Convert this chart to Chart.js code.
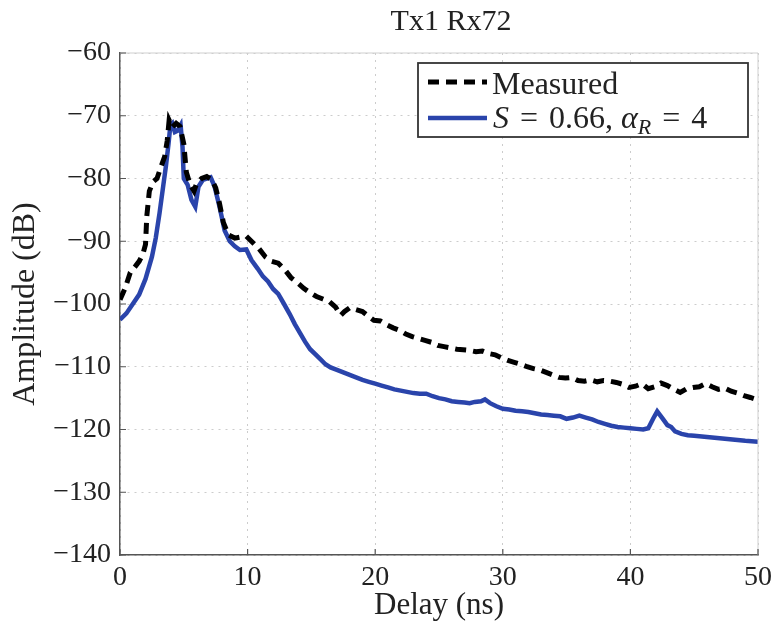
<!DOCTYPE html>
<html>
<head>
<meta charset="utf-8">
<script src="https://cdn.jsdelivr.net/npm/chart.js@4/dist/chart.umd.min.js"></script>
<style>
  body { margin: 0; background: #fff; }
  canvas { display: block; }
</style>
</head>
<body>
<canvas id="myChart" width="778" height="624"></canvas>
<script>
const chartTitle = 'Tx1 Rx72';
const xTitle = 'Delay (ns)';
const yTitle = 'Amplitude (dB)';
const xTicks = [0, 10, 20, 30, 40, 50];
const yTicks = [-140, -130, -120, -110, -100, -90, -80, -70, -60];

// Measured (dashed black)
const measDelay = [0, 0.4, 0.8, 1.2, 1.5, 1.8, 2.0, 2.1, 2.3, 2.6, 2.9, 3.2, 3.5, 3.7, 3.85, 4.1, 4.4, 4.7, 5.0, 5.2,
  5.5, 5.8, 6.0, 6.4, 6.8, 7.2, 7.5, 7.8, 8.1, 8.5, 9.0, 9.5, 9.9, 10.4, 10.9, 11.4, 11.9, 12.4, 12.9, 13.4,
  13.9, 14.4, 14.9, 15.4, 15.9, 16.4, 16.9, 17.3, 17.6, 18.0, 18.5, 19.0, 19.5, 19.9, 20.4, 20.9, 21.4, 21.9, 22.4, 22.9,
  23.4, 23.9, 24.4, 24.9, 25.4, 25.9, 26.4, 26.9, 27.4, 27.9, 28.4, 28.9, 29.4, 29.9, 30.4, 30.9, 31.4, 31.9, 32.4, 32.9,
  33.4, 33.9, 34.4, 34.9, 35.4, 35.9, 36.4, 36.9, 37.4, 37.9, 38.4, 38.9, 39.4, 39.9, 40.4, 40.9, 41.4, 41.9, 42.4, 42.9,
  43.4, 43.9, 44.4, 44.9, 45.4, 45.9, 46.4, 46.9, 47.4, 47.9, 48.4, 48.9, 49.4, 50.0];
const measAmp = [-99.3, -97.5, -95, -94, -93.2, -92, -90.5, -86, -82, -80.5, -80, -78.2, -76.5, -74, -70.7, -71.8, -71.2, -71.7, -74.5, -79,
  -81, -82, -80.8, -80, -79.7, -80.2, -81.5, -84, -87, -89, -89.5, -89.3, -89.2, -90.2, -91.2, -92.5, -93.2, -93.5, -94.5, -95.8,
  -96.6, -97.5, -98.2, -98.8, -99.2, -99.6, -100.5, -101.8, -101.2, -100.6, -100.9, -101.2, -102, -102.6, -102.7, -103.3, -103.8, -104.2, -104.8, -105.2,
  -105.5, -105.8, -106.1, -106.6, -106.8, -107, -107.2, -107.3, -107.4, -107.6, -107.5, -107.9, -108.1, -108.6, -109, -109.3, -109.6, -110, -110.3, -110.5,
  -110.9, -111.3, -111.7, -111.8, -111.7, -112.2, -112.3, -112.1, -112.4, -112.2, -112.3, -112.5, -112.8, -113.3, -113.1, -112.7, -113.5, -113.2, -112.6, -113,
  -113.6, -114.1, -113.5, -113.3, -113.2, -112.7, -113.2, -113.6, -113.4, -113.9, -114.2, -114.6, -114.9, -115.3];

// Model S = 0.66, alpha_R = 4 (solid blue)
const simDelay = [0, 0.5, 1.0, 1.5, 2.0, 2.5, 2.8, 3.1, 3.4, 3.6, 3.8, 3.95, 4.1, 4.3, 4.5, 4.75, 4.9, 5.0, 5.3, 5.6,
  5.9, 6.15, 6.5, 6.8, 7.1, 7.4, 7.8, 8.2, 8.6, 9.0, 9.4, 9.9, 10.3, 10.8, 11.2, 11.6, 12.0, 12.4, 12.8, 13.3,
  13.7, 14.1, 14.5, 14.9, 15.3, 15.7, 16.1, 16.5, 17.0, 17.5, 18.0, 18.5, 19.0, 19.5, 20.0, 20.5, 21.0, 21.5, 22.0, 22.5,
  23.0, 23.5, 24.0, 24.5, 25.0, 25.5, 26.0, 26.5, 27.0, 27.4, 27.8, 28.3, 28.6, 29.0, 29.5, 30.0, 30.5, 31.0, 31.5, 32.0,
  32.5, 33.0, 33.5, 34.0, 34.5, 35.0, 35.5, 36.0, 36.5, 37.0, 37.5, 38.0, 38.5, 39.0, 39.5, 40.0, 40.5, 41.0, 41.4, 41.8,
  42.1, 42.5, 42.9, 43.2, 43.5, 44.0, 44.5, 45.0, 46.0, 47.0, 48.0, 49.0, 50.0];
const simAmp = [-102.5, -101.5, -100, -98.5, -96, -92.5, -89.5, -85.5, -81, -78, -74.5, -71.5, -71.2, -72.6, -72.4, -71.5, -75, -80, -81, -83.4,
  -84.5, -81.3, -80.2, -80, -79.8, -81.2, -84.5, -88.3, -90, -90.8, -91.4, -91.3, -93, -94.4, -95.6, -96.4, -97.6, -98.4, -99.8, -101.6,
  -103.2, -104.6, -106, -107.2, -108, -108.8, -109.6, -110.1, -110.5, -110.9, -111.3, -111.7, -112.1, -112.4, -112.7, -113, -113.3, -113.6, -113.8, -114,
  -114.2, -114.3, -114.3, -114.7, -115, -115.2, -115.5, -115.6, -115.7, -115.8, -115.6, -115.5, -115.2, -115.8, -116.3, -116.7, -116.8, -117, -117.1, -117.2,
  -117.4, -117.6, -117.7, -117.8, -117.9, -118.3, -118.1, -117.8, -118.1, -118.4, -118.8, -119.1, -119.4, -119.6, -119.7, -119.8, -119.9, -120, -119.8, -118.2,
  -117.1, -118.2, -119.3, -119.6, -120.3, -120.7, -120.9, -121, -121.2, -121.4, -121.6, -121.8, -121.95];

// legend text pieces for the model curve (italic math + subscript)
const simLabelParts = [
  { t: 'S', it: true }, { t: ' = ', gap: 3 }, { t: '0.66, ' },
  { t: '\u03b1', it: true }, { t: 'R', it: true, sub: true }, { t: ' = ', gap: 3 }, { t: '4' }
];

const serif = '"Liberation Serif", "Times New Roman", serif';
const blue = '#2a44ab';

function minusFmt(v) {
  return v < 0 ? '\u2212' + Math.abs(v) : String(v);
}

const extras = {
  id: 'extras',
  afterDraw(chart) {
    const { ctx, chartArea: a, scales } = chart;
    ctx.save();
    // faint top / right frame
    ctx.strokeStyle = '#cfcfcf';
    ctx.lineWidth = 1;
    ctx.beginPath();
    ctx.moveTo(a.left, a.top);
    ctx.lineTo(a.right, a.top);
    ctx.lineTo(a.right, a.bottom);
    ctx.stroke();

    // inward tick marks
    ctx.strokeStyle = '#555';
    ctx.lineWidth = 1.2;
    ctx.beginPath();
    scales.y.ticks.forEach(t => {
      const py = scales.y.getPixelForValue(t.value);
      ctx.moveTo(a.left, py); ctx.lineTo(a.left + 6, py);
    });
    scales.x.ticks.forEach(t => {
      const px = scales.x.getPixelForValue(t.value);
      ctx.moveTo(px, a.bottom); ctx.lineTo(px, a.bottom - 6);
    });
    ctx.stroke();

    // title
    ctx.fillStyle = '#222';
    ctx.font = '30px ' + serif;
    ctx.textAlign = 'center';
    ctx.textBaseline = 'middle';
    ctx.fillText(chartTitle, 451, 22);

    // legend box
    const bx = 418, by = 63, bw = 330, bh = 74;
    ctx.fillStyle = '#fff';
    ctx.fillRect(bx, by, bw, bh);
    ctx.strokeStyle = '#333';
    ctx.lineWidth = 1.8;
    ctx.strokeRect(bx, by, bw, bh);

    const ds = chart.data.datasets;
    // entry 1: dashed
    ctx.strokeStyle = ds[0].borderColor;
    ctx.lineWidth = ds[0].borderWidth;
    ctx.setLineDash(ds[0].borderDash);
    ctx.beginPath();
    ctx.moveTo(428, 82); ctx.lineTo(487, 82);
    ctx.stroke();
    ctx.setLineDash([]);
    ctx.fillStyle = '#222';
    ctx.textAlign = 'left';
    ctx.textBaseline = 'alphabetic';
    ctx.font = '32px ' + serif;
    ctx.fillText(ds[0].label, 492, 94);

    // entry 2: solid blue
    ctx.strokeStyle = ds[1].borderColor;
    ctx.lineWidth = ds[1].borderWidth;
    ctx.beginPath();
    ctx.moveTo(428, 118); ctx.lineTo(487, 118);
    ctx.stroke();
    let tx = 493;
    simLabelParts.forEach(p => {
      const size = p.sub ? 22 : 32;
      ctx.font = (p.it ? 'italic ' : '') + size + 'px ' + serif;
      const g = p.gap || 0;
      tx += g;
      ctx.fillText(p.t, tx, p.sub ? 134 : 128);
      tx += ctx.measureText(p.t).width + g;
    });
    ctx.restore();
  }
};

const ctx = document.getElementById('myChart').getContext('2d');
const myChart = new Chart(ctx, {
  type: 'line',
  data: {
    datasets: [
      {
        label: 'Measured',
        data: measDelay.map((d, i) => ({ x: d, y: measAmp[i] })),
        borderColor: '#000',
        borderWidth: 5,
        borderDash: [11, 7],
        pointRadius: 0,
        tension: 0,
        fill: false
      },
      {
        label: 'S = 0.66, \u03b1R = 4',
        data: simDelay.map((d, i) => ({ x: d, y: simAmp[i] })),
        borderColor: blue,
        borderWidth: 4.5,
        pointRadius: 0,
        tension: 0,
        fill: false
      }
    ]
  },
  options: {
    responsive: false,
    animation: false,
    devicePixelRatio: 1,
    layout: { padding: { top: 53, right: 20, bottom: 0, left: 0 } },
    plugins: {
      legend: { display: false },
      title: { display: false },
      tooltip: { enabled: false }
    },
    scales: {
      x: {
        type: 'linear',
        min: xTicks[0],
        max: xTicks[xTicks.length - 1],
        afterBuildTicks: s => { s.ticks = xTicks.map(v => ({ value: v })); },
        afterFit: s => { s.height = 69; },
        ticks: { font: { family: serif, size: 28 }, color: '#222', padding: 6, maxRotation: 0 },
        grid: { color: '#cccccc', lineWidth: 1, drawTicks: false },
        border: { display: true, color: '#555', width: 1.5, dash: [2, 5] },
        title: { display: true, text: xTitle, font: { family: serif, size: 31 }, color: '#222', padding: { top: 0, bottom: 0 } }
      },
      y: {
        type: 'linear',
        min: yTicks[0],
        max: yTicks[yTicks.length - 1],
        afterBuildTicks: s => { s.ticks = yTicks.map(v => ({ value: v })); },
        afterFit: s => { s.width = 120; },
        ticks: { font: { family: serif, size: 28 }, color: '#222', padding: 9, callback: minusFmt },
        grid: { color: '#cccccc', lineWidth: 1, drawTicks: false },
        border: { display: true, color: '#555', width: 1.5, dash: [2, 5] },
        title: { display: true, text: yTitle, font: { family: serif, size: 32 }, color: '#222', padding: { top: 6, bottom: 0 } }
      }
    }
  },
  plugins: [extras]
});
</script>
</body>
</html>
